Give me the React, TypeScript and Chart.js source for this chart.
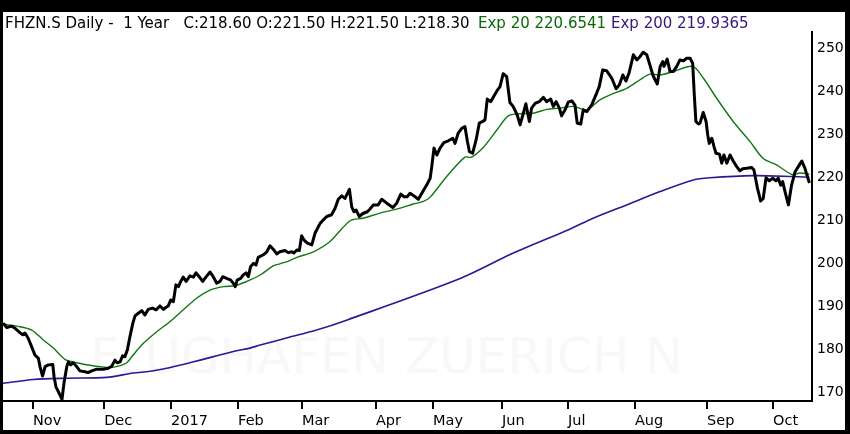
import React, { useEffect, useRef } from 'react';
import { Chart, registerables } from 'chart.js';

Chart.register(...registerables);

// x positions are trading-day positions (0 = first session shown, mid Oct 2016)
const monthTickPos = [9.4, 31.7, 52.7, 73.7, 93.7, 116.9, 134.8, 156.4, 177.1, 198.1, 220.7, 241.4];
const monthLabels = ['Nov', 'Dec', '2017', 'Feb', 'Mar', 'Apr', 'May', 'Jun', 'Jul', 'Aug', 'Sep', 'Oct'];
const yTickValues = [170, 180, 190, 200, 210, 220, 230, 240, 250];

const closeX = [
  0, 1.2, 2.7, 3.8, 5.3, 6.2, 6.9, 7.9, 9.0, 10.0, 11.1, 11.6, 12.4, 13.2, 14.2, 15.6, 16.0, 16.6, 17.6, 18.5,
  19.1, 20.0, 20.5, 21.2, 22.0, 23.1, 24.1, 25.7, 26.7, 27.8, 29.4, 31.4, 33.0, 34.1, 35.1, 35.8, 36.7, 37.5, 38.2, 39.0,
  39.8, 40.7, 41.4, 42.4, 43.5, 44.5, 45.5, 46.9, 48.0, 49.2, 50.3, 51.1, 51.8, 52.6, 53.4, 54.2, 55.0, 55.7, 56.5, 57.4,
  58.6, 59.7, 60.5, 61.5, 62.6, 63.6, 64.9, 65.9, 67.0, 68.0, 68.9, 70.1, 71.4, 72.2, 72.8, 73.4, 74.5, 75.3, 76.2, 76.9,
  77.6, 78.5, 79.3, 80.0, 81.6, 82.7, 83.7, 84.7, 85.8, 86.8, 88.4, 89.4, 90.5, 91.2, 92.1, 92.9, 93.6, 94.4, 95.4, 96.8,
  97.8, 99.4, 100.4, 101.5, 103.0, 104.1, 105.1, 106.2, 107.2, 108.6, 109.3, 110.0, 110.7, 111.7, 112.8, 114.2, 115.0, 116.1, 117.6, 118.7,
  120.3, 122.2, 123.4, 124.7, 125.7, 126.7, 127.6, 129.2, 130.2, 131.3, 132.8, 133.9, 134.4, 135.1, 136.0, 137.0, 138.2, 139.6, 141.0, 141.7,
  142.7, 143.8, 144.8, 145.6, 146.2, 147.2, 148.3, 149.3, 150.4, 151.1, 151.8, 152.9, 153.9, 155.0, 155.8, 156.8, 157.9, 158.9, 159.9, 161.2,
  162.1, 163.1, 163.9, 165.0, 165.7, 166.8, 168.1, 169.4, 170.4, 171.7, 172.5, 173.4, 174.4, 175.1, 176.2, 177.2, 178.3, 179.3, 180.0, 181.1,
  181.9, 183.0, 184.5, 186.1, 186.9, 188.0, 189.2, 190.8, 192.2, 193.2, 194.3, 195.3, 196.3, 197.6, 198.7, 199.7, 200.7, 201.8, 202.8, 203.7,
  204.4, 205.1, 206.0, 206.8, 207.2, 208.2, 209.1, 210.1, 211.2, 212.2, 213.3, 214.3, 215.4, 216.2, 216.7, 217.2, 218.0, 218.5, 219.5, 220.4,
  220.9, 221.4, 222.2, 222.9, 223.5, 224.6, 225.3, 226.0, 226.9, 227.9, 228.9, 230.0, 231.0, 231.9, 233.1, 234.7, 235.4, 236.5, 237.5, 238.3,
  239.2, 240.2, 241.3, 242.3, 243.0, 243.8, 244.4, 245.1, 246.2, 247.2, 248.3, 249.3, 250.4, 251.4, 252.1, 252.8,
];
const closeY = [
  186.0, 185.0, 185.3, 184.8, 183.8, 183.3, 183.7, 182.5, 180.5, 178.6, 177.8, 175.9, 173.7, 175.9, 176.3, 176.4, 173.6, 171.2, 169.7, 168.3,
  172.0, 175.9, 177.0, 176.3, 176.8, 175.9, 174.9, 174.7, 174.5, 174.9, 175.3, 175.3, 175.5, 176.0, 177.4, 176.8, 177.0, 178.4, 178.2, 179.8,
  182.9, 186.0, 187.7, 188.3, 188.9, 187.9, 189.2, 189.5, 189.1, 190.0, 189.2, 189.7, 190.0, 191.4, 191.0, 194.9, 194.5, 195.7, 196.7, 195.7,
  197.0, 196.7, 197.7, 196.8, 195.7, 196.7, 197.9, 196.8, 195.3, 195.7, 196.8, 196.4, 196.0, 195.3, 194.5, 196.0, 196.4, 197.2, 197.7, 196.8,
  199.1, 199.9, 199.5, 201.3, 201.9, 202.6, 204.0, 203.2, 202.1, 202.6, 202.9, 202.4, 202.6, 202.3, 203.0, 202.9, 206.3, 205.3, 204.6, 204.2,
  206.9, 209.2, 210.0, 210.8, 211.2, 212.7, 214.8, 215.6, 215.0, 217.1, 213.1, 211.9, 212.3, 210.8, 211.5, 211.9, 212.5, 213.5, 213.5, 214.8,
  213.9, 212.9, 213.9, 216.0, 215.4, 215.4, 216.2, 215.4, 214.8, 216.2, 218.1, 219.7, 222.4, 226.7, 225.1, 226.7, 228.0, 228.4, 229.0, 227.8,
  230.2, 231.3, 231.7, 228.2, 225.9, 225.5, 228.6, 232.5, 232.9, 233.3, 238.1, 237.5, 238.8, 240.2, 241.0, 244.0, 243.3, 237.3, 236.4, 234.4,
  232.1, 234.8, 237.0, 232.9, 236.0, 237.1, 237.5, 238.5, 237.5, 238.1, 236.4, 237.5, 236.0, 234.2, 235.6, 237.4, 237.7, 236.7, 232.5, 232.3,
  235.6, 235.2, 236.7, 239.5, 241.0, 244.9, 244.7, 243.0, 240.5, 241.4, 243.7, 242.3, 244.3, 248.4, 247.2, 248.0, 249.0, 248.4, 246.0, 243.7,
  242.6, 241.6, 245.7, 246.8, 245.7, 247.4, 244.5, 244.5, 245.7, 247.2, 247.0, 247.6, 247.6, 246.4, 239.1, 232.9, 232.3, 232.5, 235.0, 232.9,
  229.8, 227.8, 229.0, 227.0, 225.5, 225.3, 223.2, 225.1, 223.2, 225.1, 223.7, 222.4, 221.4, 221.9, 222.0, 222.2, 221.6, 217.4, 214.4, 215.0,
  219.8, 219.1, 219.7, 219.1, 219.7, 218.1, 218.9, 216.7, 213.5, 218.1, 221.2, 222.4, 223.7, 222.0, 220.2, 218.6,
];

const ema20X = [
  0, 4.3, 9.0, 12.6, 15.8, 19.4, 23.1, 27.3, 30.4, 33.5, 36.1, 38.8, 40.8, 44.0, 48.2, 52.4, 56.5, 60.7, 64.9, 69.1,
  72.7, 76.4, 80.6, 84.7, 86.8, 89.7, 92.1, 97.3, 102.5, 108.8, 112.9, 118.2, 123.4, 128.6, 131.8, 133.9, 139.1, 144.8, 146.9, 150.6,
  154.8, 158.4, 162.1, 166.2, 170.4, 174.6, 178.8, 183.0, 187.1, 190.3, 195.5, 199.7, 202.8, 206.0, 210.1, 216.2, 219.5, 223.7, 228.9, 234.2,
  238.3, 242.5, 245.7, 247.7, 249.8, 252.8,
];
const ema20Y = [
  185.8, 185.3, 184.4, 182.1, 180.2, 177.6, 176.8, 176.2, 175.9, 175.7, 176.0, 176.8, 178.6, 181.3, 184.0, 186.4, 189.1, 191.8, 193.7, 194.5,
  194.7, 195.7, 197.2, 199.3, 199.8, 200.5, 201.3, 202.6, 205.0, 209.8, 210.4, 211.6, 212.5, 213.7, 214.3, 215.3, 220.1, 224.6, 224.6, 226.9,
  230.9, 234.2, 234.7, 234.8, 235.7, 236.0, 236.4, 235.6, 237.9, 239.1, 240.6, 242.6, 243.9, 243.7, 244.5, 245.7, 243.0, 238.3, 232.9, 228.2,
  224.3, 222.8, 221.2, 220.5, 220.9, 220.65,
];

const ema200X = [
  0, 9.5, 20.0, 32.5, 40.8, 46.1, 51.3, 56.5, 61.8, 72.2, 77.4, 80.6, 89.7, 98.3, 107.7, 142.7, 160.0, 177.5, 185.0, 195.5,
  206.0, 216.4, 221.6, 235.2, 247.7, 252.8,
];
const ema200Y = [
  172.0, 172.9, 173.2, 173.4, 174.4, 174.8, 175.5, 176.4, 177.4, 179.4, 180.2, 180.9, 182.7, 184.4, 186.7, 196.2, 202.3, 207.8, 210.4, 213.5,
  216.6, 219.3, 219.8, 220.3, 220.1, 219.94,
];

const titleMain = 'FHZN.S Daily -  1 Year   C:218.60 O:221.50 H:221.50 L:218.30';
const titleEma20 = 'Exp 20 220.6541';
const titleEma200 = 'Exp 200 219.9365';
const watermark = 'FLUGHAFEN ZUERICH N';

const GREEN = '#127812';
const PURPLE = '#2c1896';
const FONT = '"DejaVu Sans", "Noto Sans", sans-serif';

const toPoints = (xs: number[], ys: number[]) => xs.map((x, i) => ({ x, y: ys[i] }));

const watermarkPlugin = {
  id: 'watermark',
  beforeDatasetsDraw(chart: any) {
    const { ctx, chartArea } = chart;
    ctx.save();
    ctx.font = `50px ${FONT}`;
    ctx.fillStyle = '#f8f8f8';
    ctx.textBaseline = 'alphabetic';
    ctx.textAlign = 'left';
    ctx.fillText(watermark, chartArea.left + 87, chartArea.bottom - 28);
    ctx.restore();
  },
};

export default function App() {
  const ref = useRef<HTMLCanvasElement | null>(null);

  useEffect(() => {
    document.body.style.margin = '0';
    const canvas = ref.current;
    if (!canvas) return;
    const chart = new Chart(canvas, {
      type: 'line',
      data: {
        datasets: [
          {
            label: 'Exp 200',
            data: toPoints(ema200X, ema200Y),
            borderColor: PURPLE,
            borderWidth: 1.6,
            pointRadius: 0,
            tension: 0.3,
            order: 3,
          },
          {
            label: 'Exp 20',
            data: toPoints(ema20X, ema20Y),
            borderColor: GREEN,
            borderWidth: 1.4,
            pointRadius: 0,
            tension: 0.3,
            order: 2,
          },
          {
            label: 'Close',
            data: toPoints(closeX, closeY),
            borderColor: '#000',
            borderWidth: 3,
            pointRadius: 0,
            tension: 0,
            borderJoinStyle: 'round',
            order: 1,
          },
        ],
      },
      options: {
        animation: false,
        responsive: false,
        devicePixelRatio: 1,
        layout: { padding: { left: 3, top: 32, right: 0, bottom: 0 } },
        plugins: { legend: { display: false }, tooltip: { enabled: false } },
        scales: {
          x: {
            type: 'linear',
            min: 0,
            max: 253.6,
            afterBuildTicks: (scale: any) => {
              scale.ticks = monthTickPos.map((v) => ({ value: v }));
            },
            afterFit: (scale: any) => {
              scale.height = 33;
            },
            grid: {
              display: true,
              drawOnChartArea: false,
              drawTicks: true,
              tickLength: 8,
              color: '#000',
              lineWidth: 2,
            },
            border: { display: true, color: '#000', width: 2 },
            ticks: {
              autoSkip: false,
              maxRotation: 0,
              minRotation: 0,
              align: 'start',
              padding: 4,
              color: '#000',
              font: { family: FONT, size: 14.5 },
              callback: (value: any) => {
                const i = monthTickPos.indexOf(Number(value));
                return i >= 0 ? monthLabels[i] : '';
              },
            },
          },
          y: {
            type: 'linear',
            position: 'right',
            min: 167.9,
            max: 253.7,
            afterBuildTicks: (scale: any) => {
              scale.ticks = yTickValues.map((v) => ({ value: v }));
            },
            afterFit: (scale: any) => {
              scale.width = 38;
            },
            grid: { display: false, drawTicks: false },
            border: { display: true, color: '#000', width: 2 },
            ticks: {
              padding: 5,
              color: '#000',
              font: { family: FONT, size: 14 },
              callback: (value: any) => String(value),
            },
          },
        },
      },
      plugins: [watermarkPlugin],
    } as any);
    return () => chart.destroy();
  }, []);

  const titleStyle: React.CSSProperties = {
    position: 'absolute',
    top: 15,
    fontFamily: FONT,
    fontSize: '15px',
    lineHeight: '17px',
    whiteSpace: 'pre',
  };

  return (
    <div style={{ position: 'fixed', left: 0, top: 0, width: 850, height: 434, background: '#000', overflow: 'hidden' }}>
      <div style={{ position: 'absolute', left: 3, top: 12, width: 842, height: 418, background: '#fff' }} />
      <canvas ref={ref} width={850} height={434} style={{ position: 'absolute', left: 0, top: 0, width: 850, height: 434 }} />
      <div style={{ ...titleStyle, left: 5, color: '#000' }}>{titleMain}</div>
      <div style={{ ...titleStyle, left: 478, color: '#0a6a0a' }}>{titleEma20}</div>
      <div style={{ ...titleStyle, left: 611, color: '#35197e' }}>{titleEma200}</div>
    </div>
  );
}
